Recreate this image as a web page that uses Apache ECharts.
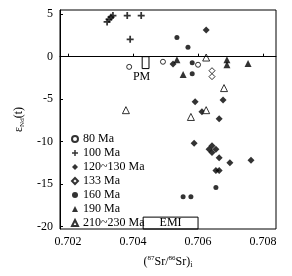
<!DOCTYPE html>
<html><head><meta charset="utf-8">
<script src="https://cdn.jsdelivr.net/npm/echarts@6/dist/echarts.min.js"></script>
<style>html,body{margin:0;padding:0;background:#fff}#c{width:292px;height:276px}</style>
</head><body><div id="c"></div>
<script>
var FONT = "'Liberation Serif','Times New Roman',serif";
var xTicks = [0.702, 0.704, 0.706, 0.708];
var yTicks = [-20, -15, -10, -5, 0, 5];
var names = ['80 Ma', '100 Ma', '120~130 Ma', '133 Ma', '160 Ma', '190 Ma', '210~230 Ma'];
var s80 = [[0.70388,-1.2],[0.70492,-0.6],[0.70600,-0.95]];
var s100 = [[0.70320,4.1],[0.70326,4.4],[0.70332,4.65],[0.70338,4.85],[0.70382,4.85],[0.70425,4.85],[0.70391,2.05]];
var s120 = [[0.70625,3.15],[0.70523,-0.85],[0.70591,-5.3],[0.70677,-5.1],[0.70612,-6.5],[0.70665,-7.3],
            [0.70588,-10.2],[0.70643,-10.5],[0.70634,-10.9],[0.70655,-10.9],[0.70643,-11.3],[0.70665,-11.9],
            [0.70698,-12.5],[0.70763,-12.2],[0.70655,-13.4],[0.70665,-13.4]];
var s133 = [[0.70643,-1.65],[0.70643,-2.35]];
var s160 = [[0.70535,2.25],[0.70569,1.1],[0.70582,-0.7],[0.70582,-2.0],[0.70554,-16.5],[0.70578,-16.5],[0.70655,-15.4]];
var s190 = [[0.70535,-0.35],[0.70554,-2.1],[0.70689,-0.35],[0.70689,-0.95],[0.70754,-0.8]];
var s210 = [[0.70625,-0.1],[0.70680,-3.7],[0.70625,-6.3],[0.70578,-7.1],[0.70378,-6.3]];
var refX = 0.70455, refY = 0;
var pmBox = [[0.70428, 0], [0.70449, -1.4]];
var emiBox = [[0.70431, -18.9], [0.70600, -20.3]];

var plus = 'path://M3,0h2v3h3v2h-3v3h-2v-3h-3v-2h3z';
var openStyle = {color:'#fff', borderColor:'#000', borderWidth:1};
var fillStyle = {color:'#000'};
function ser(name, data, symbol, size, style) {
  return {name:name, type:'scatter', data:data, symbol:symbol, symbolSize:size, itemStyle:style, z:3};
}
var chart = echarts.init(document.getElementById('c'), null, {renderer:'canvas'});
chart.setOption({
  animation:false,
  textStyle:{fontFamily:FONT},
  grid:{left:60, right:16, top:10, bottom:47, show:true, borderColor:'#000', borderWidth:1},
  xAxis:{type:'value', min:0.70175, max:0.7084,
    name:'({p|87}Sr/{p|86}Sr){b|i}', nameLocation:'middle', nameGap:26,
    nameTextStyle:{fontFamily:FONT, fontSize:12, color:'#000',
      rich:{p:{fontSize:7, verticalAlign:'top', fontFamily:FONT, color:'#000', lineHeight:14}, b:{fontSize:8, verticalAlign:'bottom', fontFamily:FONT, color:'#000', lineHeight:14}}},
    axisLine:{lineStyle:{color:'#000', width:1}},
    axisTick:{inside:true, length:3, customValues:xTicks, lineStyle:{color:'#000'}},
    axisLabel:{customValues:xTicks, color:'#000', fontSize:12, fontFamily:FONT, margin:7, formatter:function(v){return v.toFixed(3);}},
    splitLine:{show:false}},
  yAxis:{type:'value', min:-20.3, max:5.5,
    name:'{e|ε}{s|Nd}{e|(t)}', nameLocation:'middle', nameGap:32, nameRotate:90,
    nameTextStyle:{fontFamily:FONT, fontSize:12, color:'#000',
      rich:{e:{fontSize:12, fontFamily:FONT, color:'#000', lineHeight:14}, s:{fontSize:7, verticalAlign:'bottom', fontFamily:FONT, color:'#000', lineHeight:14}}},
    axisLine:{lineStyle:{color:'#000', width:1}},
    axisTick:{inside:true, length:3, customValues:yTicks, lineStyle:{color:'#000'}},
    axisLabel:{customValues:yTicks, color:'#000', fontSize:12, fontFamily:FONT, margin:7},
    splitLine:{show:false}},
  legend:{orient:'vertical', left:66, top:127, itemGap:0, itemWidth:6, itemHeight:6, itemTextGap:5,
    textStyle:{fontSize:12, lineHeight:14, color:'#000', fontFamily:FONT}, data:names},
  series:[
    {type:'scatter', data:[], silent:true, z:1,
      markLine:{silent:true, symbol:'none', animation:false, label:{show:false},
        lineStyle:{color:'#000', width:1, type:'solid'},
        data:[{xAxis:refX}, {yAxis:refY}]},
      markArea:{silent:true,
        itemStyle:{color:'rgba(0,0,0,0)', borderColor:'#000', borderWidth:1},
        data:[
          [{coord:pmBox[0], name:'PM', label:{show:true, position:'bottom', distance:2, offset:[-4,0], color:'#000', fontSize:12, fontFamily:FONT}},
           {coord:pmBox[1]}],
          [{coord:emiBox[0], name:'EMI', label:{show:true, position:'inside', color:'#000', fontSize:12, fontFamily:FONT}},
           {coord:emiBox[1]}]
        ]}},
    ser(names[0], s80, 'circle', 5, openStyle),
    ser(names[1], s100, plus, 7, fillStyle),
    ser(names[2], s120, 'diamond', 7, fillStyle),
    ser(names[3], s133, 'diamond', 6, openStyle),
    ser(names[4], s160, 'circle', 5, fillStyle),
    ser(names[5], s190, 'triangle', 7, fillStyle),
    ser(names[6], s210, 'triangle', 7, openStyle)
  ]
});
</script></body></html>
